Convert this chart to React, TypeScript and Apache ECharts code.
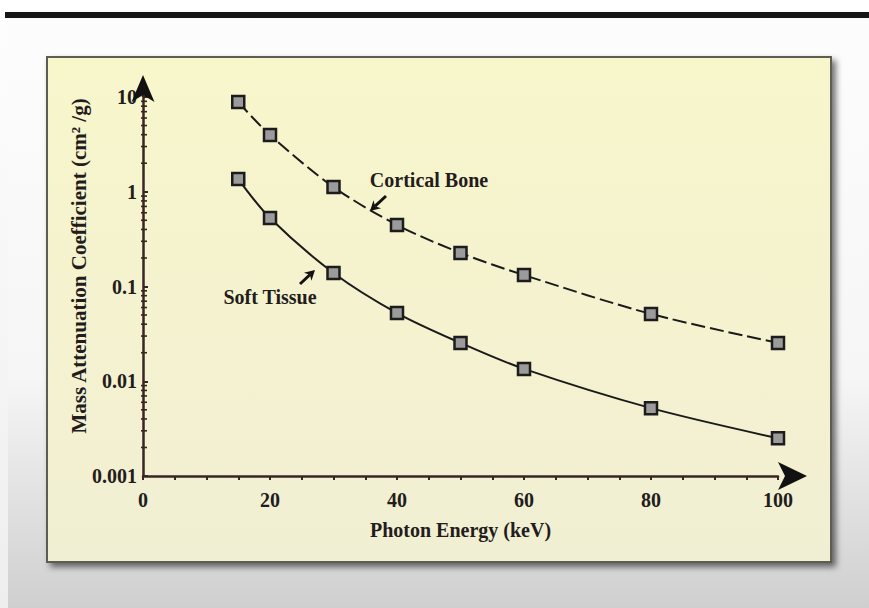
import React, { useEffect, useRef } from "react";
import * as echarts from "echarts";

const energies = [15, 20, 30, 40, 50, 60, 80, 100];
const corticalBone = [8.85, 3.97, 1.12, 0.446, 0.226, 0.132, 0.0513, 0.0254];
const softTissue = [1.36, 0.528, 0.139, 0.0525, 0.0254, 0.0135, 0.0052, 0.0025];
const xTickLabels = [0, 20, 40, 60, 80, 100];
const yDecades = [0.001, 0.01, 0.1, 1];
const minorMultipliers = [2, 3, 4, 5, 6, 7, 8, 9];
const xRange = [0, 100];
const yRange = [0.001, 10];

const FONT = "'Liberation Serif', 'Times New Roman', serif";
const INK = "#231c1c";
const AXIS = "#3a2424";

function makeArrow(x1: number, y1: number, x2: number, y2: number) {
  const dx = x2 - x1;
  const dy = y2 - y1;
  const len = Math.sqrt(dx * dx + dy * dy);
  const ux = dx / len;
  const uy = dy / len;
  const px = -uy;
  const py = ux;
  const head = 10;
  const half = 5.5;
  const bx = x2 - ux * head;
  const by = y2 - uy * head;
  return [
    {
      type: "line",
      z: 100,
      shape: { x1, y1, x2: bx + ux * 3, y2: by + uy * 3 },
      style: { stroke: "#111", lineWidth: 3 },
    },
    {
      type: "polygon",
      z: 100,
      shape: {
        points: [
          [x2, y2],
          [bx + px * half, by + py * half],
          [bx + ux * 3, by + uy * 3],
          [bx - px * half, by - py * half],
        ],
      },
      style: { fill: "#111" },
    },
  ];
}

export default function App() {
  const ref = useRef<HTMLDivElement>(null);
  useEffect(() => {
    const chart = echarts.init(ref.current!, null, { renderer: "svg" });
    const minorData: number[][] = [];
    yDecades.forEach((d) =>
      minorMultipliers.forEach((m) => minorData.push([0, +(m * d).toPrecision(3)]))
    );
    const option: any = {
      animation: false,
      backgroundColor: "#ffffff",
      grid: { left: 143, right: 91, top: 97, bottom: 132, containLabel: false },
      xAxis: {
        type: "value",
        min: xRange[0],
        max: xRange[1],
        interval: 5,
        name: "Photon Energy (keV)",
        nameLocation: "middle",
        nameGap: 44,
        nameTextStyle: { fontFamily: FONT, fontWeight: "bold", fontSize: 20, color: INK },
        axisLine: { show: true, lineStyle: { color: AXIS, width: 2.5 } },
        axisTick: { show: true, length: 4, lineStyle: { color: AXIS, width: 2 } },
        axisLabel: {
          margin: 14,
          fontFamily: FONT,
          fontWeight: "bold",
          fontSize: 20,
          color: INK,
          formatter: (v: number) => (xTickLabels.indexOf(v) >= 0 ? String(v) : ""),
        },
        splitLine: { show: false },
      },
      yAxis: {
        type: "log",
        logBase: 10,
        min: yRange[0],
        max: yRange[1],
        axisLine: { show: true, lineStyle: { color: AXIS, width: 2.5 } },
        axisTick: { show: true, length: 5, inside: true, lineStyle: { color: AXIS, width: 2 } },
        axisLabel: {
          margin: 6,
          fontFamily: FONT,
          fontWeight: "bold",
          fontSize: 20,
          color: INK,
          formatter: (v: number) => String(v),
        },
        splitLine: { show: false },
        minorTick: { show: false },
      },
      series: [
        {
          name: "Cortical Bone",
          type: "line",
          data: energies.map((e, i) => [e, corticalBone[i]]),
          smooth: 0.3,
          symbol: "rect",
          symbolSize: 12,
          lineStyle: { color: "#1a1a1a", width: 2, type: [14, 5] },
          itemStyle: { color: "#9b9b9b", borderColor: "#1c1c1c", borderWidth: 2.5 },
          z: 5,
        },
        {
          name: "Soft Tissue",
          type: "line",
          data: energies.map((e, i) => [e, softTissue[i]]),
          smooth: 0.3,
          symbol: "rect",
          symbolSize: 12,
          lineStyle: { color: "#1a1a1a", width: 2 },
          itemStyle: { color: "#9b9b9b", borderColor: "#1c1c1c", borderWidth: 2.5 },
          z: 5,
        },
        {
          type: "custom",
          data: minorData,
          clip: false,
          silent: true,
          z: 4,
          renderItem: (params: any, api: any) => {
            const p = api.coord([api.value(0), api.value(1)]);
            return {
              type: "line",
              shape: { x1: p[0] - 2, y1: p[1], x2: p[0] + 4, y2: p[1] },
              style: { stroke: AXIS, lineWidth: 1.6 },
            };
          },
        },
        {
          type: "custom",
          data: [[xRange[0], yRange[0]]],
          clip: false,
          silent: true,
          z: 6,
          renderItem: (params: any, api: any) => {
            const o = api.coord([xRange[0], yRange[0]]);
            const top = api.coord([xRange[0], yRange[1]]);
            const right = api.coord([xRange[1], yRange[0]]);
            return {
              type: "group",
              children: [
                {
                  type: "line",
                  shape: { x1: o[0], y1: top[1], x2: o[0], y2: top[1] - 14 },
                  style: { stroke: AXIS, lineWidth: 2.5 },
                },
                {
                  type: "polygon",
                  shape: {
                    points: [
                      [o[0], top[1] - 22],
                      [o[0] + 11.5, top[1] + 5],
                      [o[0], top[1] - 2],
                      [o[0] - 11.5, top[1] + 5],
                    ],
                  },
                  style: { fill: "#111" },
                },
                {
                  type: "polygon",
                  shape: {
                    points: [
                      [right[0] + 29, o[1]],
                      [right[0], o[1] - 14],
                      [right[0] + 7, o[1]],
                      [right[0], o[1] + 14],
                    ],
                  },
                  style: { fill: "#111" },
                },
              ],
            };
          },
        },
      ],
      graphic: [
        {
          type: "rect",
          z: -100,
          silent: true,
          shape: { x: 0, y: 0, width: 869, height: 608 },
          style: {
            fill: new echarts.graphic.LinearGradient(0, 0, 0, 1, [
              { offset: 0, color: "#fdfdfd" },
              { offset: 0.62, color: "#f6f6f6" },
              { offset: 1, color: "#cfcfcf" },
            ]),
          },
        },
        {
          type: "rect",
          z: -99,
          silent: true,
          shape: { x: 0, y: 0, width: 8, height: 608 },
          style: {
            fill: new echarts.graphic.LinearGradient(0, 0, 0, 1, [
              { offset: 0, color: "#fefefe" },
              { offset: 1, color: "#eeeeee" },
            ]),
          },
        },
        {
          type: "rect",
          z: -98,
          silent: true,
          shape: { x: 0, y: 0, width: 869, height: 12 },
          style: { fill: "#ffffff" },
        },
        {
          type: "rect",
          z: -97,
          silent: true,
          shape: { x: 5, y: 12, width: 864, height: 6 },
          style: { fill: "#161616" },
        },
        {
          type: "rect",
          z: -96,
          silent: true,
          shape: { x: 47, y: 57, width: 784, height: 505 },
          style: {
            fill: new echarts.graphic.LinearGradient(0, 0, 0, 1, [
              { offset: 0, color: "#f8f6cb" },
              { offset: 1, color: "#f1efd3" },
            ]),
            stroke: "#5d5d52",
            lineWidth: 2,
            shadowBlur: 6,
            shadowOffsetX: 4,
            shadowOffsetY: 4,
            shadowColor: "rgba(0,0,0,0.55)",
          },
        },
        {
          type: "text",
          z: 100,
          x: 79,
          y: 266,
          rotation: Math.PI / 2,
          style: {
            text: "Mass Attenuation Coefficient (cm² /g)",
            fontFamily: FONT,
            fontWeight: "bold",
            fontSize: 21,
            fill: INK,
            textAlign: "center",
            textVerticalAlign: "middle",
          },
        },
        {
          type: "text",
          z: 100,
          x: 429,
          y: 180,
          style: {
            text: "Cortical Bone",
            fontFamily: FONT,
            fontWeight: "bold",
            fontSize: 20,
            fill: INK,
            textAlign: "center",
            textVerticalAlign: "middle",
          },
        },
        {
          type: "text",
          z: 100,
          x: 270,
          y: 297,
          style: {
            text: "Soft Tissue",
            fontFamily: FONT,
            fontWeight: "bold",
            fontSize: 20,
            fill: INK,
            textAlign: "center",
            textVerticalAlign: "middle",
          },
        },
        ...makeArrow(386, 196, 370, 211),
        ...makeArrow(300, 284, 315, 270),
      ],
    };
    chart.setOption(option);
    return () => chart.dispose();
  }, []);
  return (
    <div
      ref={ref}
      style={{ position: "fixed", left: 0, top: 0, width: 869, height: 608 }}
    />
  );
}
